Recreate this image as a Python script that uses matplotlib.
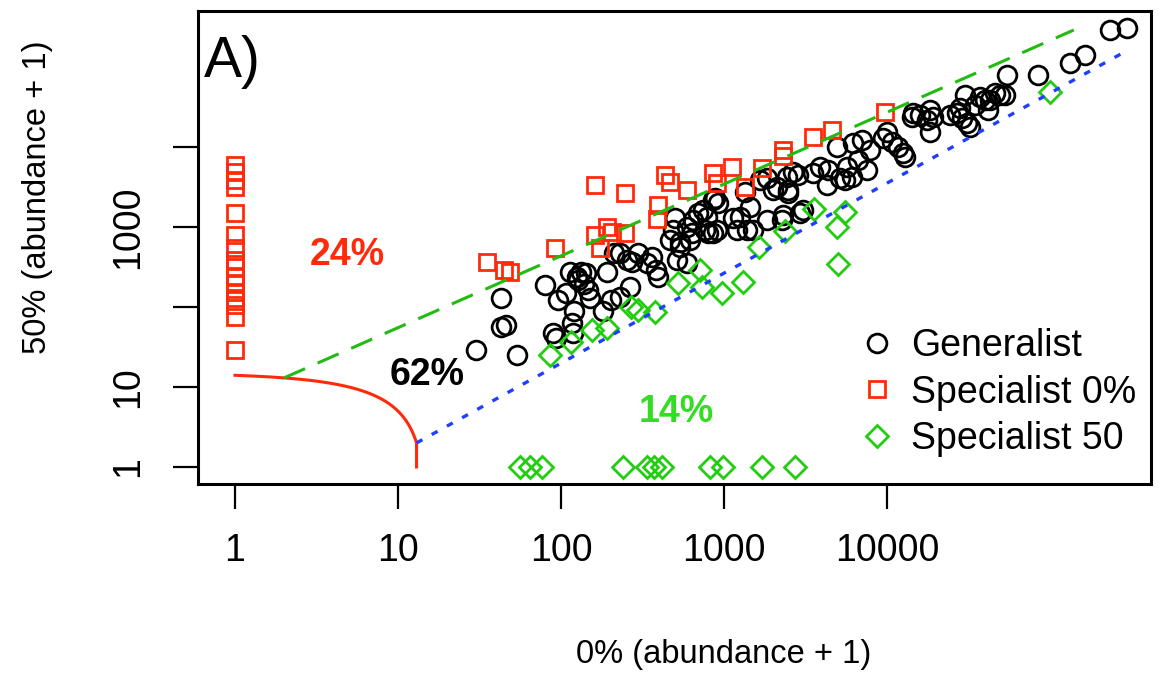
import numpy as np
import matplotlib.pyplot as plt

plt.rcParams['font.family'] = ['Liberation Sans', 'DejaVu Sans']

# generalist species: abundance + 1 at 0% and at 50%
gen_x = [30, 43, 43, 46, 54, 80, 89, 93, 96, 107, 117, 118, 114, 120, 127, 133, 138, 151,
         181, 192, 203, 211, 230, 230, 265, 254, 273, 297, 337, 362, 383, 394, 142, 146, 125,
         467, 487, 500, 537, 515, 593, 637, 645, 692, 787, 798, 906, 857, 919, 743, 1136,
         1254, 1345, 1445, 1507, 1663, 1836, 2115, 2270, 2472, 2650, 618, 537, 593, 764,
         857, 1202, 881,
         1836, 2437, 2472, 2844, 3053, 3515, 3880, 4285, 4345, 4932, 5150, 5685, 6185, 6640,
         7025, 7540, 7870, 5524, 6100, 2300, 2926, 2000, 1384,
         9450, 10000, 10740, 11680, 12530, 12890, 14230, 14450, 15930, 17590, 18370, 19150,
         18370, 26870, 28840, 30970, 32300, 37220, 39940, 41690, 46010, 52970, 54460, 84400,
         132700, 164000, 233500, 296700, 24370, 28050, 34670, 42850, 49320, 30110]
gen_y = [29, 130, 56, 60, 25, 188, 47, 41, 122, 150, 63, 47, 274, 89, 218, 274, 194, 130,
         89, 274, 122, 473, 473, 133, 178, 387, 365, 473, 355, 422, 290, 237, 266, 163, 237,
         688, 917, 1296, 649, 387, 1000, 841, 1223, 1496, 1334, 841, 917, 2175, 1995, 1632,
         1296, 1334, 2738, 1778, 917, 3868, 1223, 3162, 1223, 2661, 4870, 688, 562, 355, 917,
         841, 917, 2304,
         4098, 4217, 2900, 4467, 1632, 4732, 5623, 3350, 5158, 10000, 4098, 5623, 11220, 6879,
         12232, 5158, 9173, 3868, 4217, 1413, 1496, 2900, 917,
         12960, 15400, 11550, 10000, 8414, 7499, 23714, 26600, 25119, 21760, 29000, 23714,
         15400, 26600, 23050, 19950, 17780, 42170, 38680, 29000, 47320, 44670, 79430, 79430,
         112200, 141250, 290000, 307300, 25119, 30730, 33500, 38680, 44670, 44670]

# specialists found only (or mostly) at 0%
sp0_x = [1, 1, 1, 1, 1, 1, 1, 1, 1, 1, 1, 1, 1, 1, 1, 1,
         35, 45, 49, 92, 162, 173, 192, 205, 247, 162, 247, 394, 388, 435, 467, 593,
         857, 906, 1120, 1345, 1711, 2300, 2300, 3515, 4600, 9720]
sp0_y = [5957, 4870, 3870, 3162, 1496, 794, 546, 387, 316, 237, 194, 154, 130, 106, 75, 29,
         365, 290, 274, 546, 794, 546, 1000, 866, 841, 3350, 2660, 1884, 1259, 4467, 3652,
         2900, 4732, 3548, 5623, 3162, 5464, 9173, 7720, 13335, 16313, 27384]

# specialists found only (or mostly) at 50%
sp50_x = [56, 65, 76, 240, 337, 372, 417, 820, 986, 1711, 2727,
          86, 115, 155, 192, 269, 297, 377, 522, 713, 733, 972, 1308, 1640, 2366, 3562,
          5524, 4932, 5003, 100000]
sp50_y = [1, 1, 1, 1, 1, 1, 1, 1, 1, 1, 1,
          25, 37, 52, 55, 100, 92, 87, 200, 290, 178, 150, 205, 562, 891, 1679, 1540,
          1000, 345, 48696]

# boundary lines
total_cut = 15
upper_line = ([2, 140000], [13, 290000])
lower_line = ([13, 280000], [2, 150000])

ticks = [1, 10, 100, 1000, 10000]
xtick_labels = ['1', '10', '100', '1000', '10000']
ytick_labels = ['1', '10', '', '1000', '']

red = '#ff2a0a'
green = '#22cc11'

fig = plt.figure(figsize=(11.65, 6.73), dpi=100)
ax = fig.add_axes([198 / 1165, 1 - 484 / 673, (1151 - 198) / 1165, (484 - 11) / 673])
ax.set_xscale('log')
ax.set_yscale('log')

ax.plot(gen_x, gen_y, ls='none', marker='o', ms=13.5, mfc='none', mec='black', mew=2.0,
        label='Generalist')
ax.plot(sp0_x, sp0_y, ls='none', marker='s', ms=12, mfc='none', mec=red, mew=2.0,
        label='Specialist 0%')
ax.plot(sp50_x, sp50_y, ls='none', marker='D', ms=11.5, mfc='none', mec=green, mew=2.0,
        label='Specialist 50')

cx = np.linspace(1, total_cut - 2, 200)
ax.plot(list(cx) + [total_cut - 2], list(total_cut - cx) + [1], color=red, lw=2.2)
ax.plot(upper_line[0], upper_line[1], color='#22bb11', lw=2.2, dashes=(7.5, 4.5))
ax.plot(lower_line[0], lower_line[1], color='#1f3fff', lw=2.4, dashes=(2, 3.2))

ax.text(4.87, 447, '24%', color=red, fontsize=27, fontweight='bold', ha='center', va='center')
ax.text(15.1, 14.1, '62%', color='black', fontsize=27, fontweight='bold', ha='center', va='center')
ax.text(508, 4.87, '14%', color='#33dd22', fontsize=27, fontweight='bold', ha='center', va='center')
ax.text(0.006, 0.86, 'A)', transform=ax.transAxes, fontsize=41, ha='left', va='baseline')

ax.set_xlim(10 ** -0.227, 10 ** 5.62)
ax.set_ylim(10 ** -0.2125, 10 ** 5.7)
ax.minorticks_off()
ax.set_xticks(ticks)
ax.set_xticklabels(xtick_labels)
ax.set_yticks(ticks)
ax.set_yticklabels(ytick_labels, rotation=90, va='center')
ax.tick_params(direction='out', length=18, width=1.6, labelsize=27)
ax.tick_params(axis='x', pad=17)
ax.tick_params(axis='y', pad=19)
for s in ax.spines.values():
    s.set_linewidth(2.2)

fig.text(724 / 1165, 1 - 655 / 673, '0% (abundance + 1)', fontsize=23.5,
         ha='center', va='center')
fig.text(38 / 1165, 1 - 197 / 673, '50% (abundance + 1)', fontsize=23.5,
         ha='center', va='center', rotation=90)

ax.legend(loc='upper left', bbox_to_anchor=(0.737, 0.512), bbox_transform=fig.transFigure,
          frameon=False, fontsize=27, handlelength=1.0, handletextpad=0.4,
          labelspacing=0.27, borderpad=0, borderaxespad=0)

fig.savefig('out.png', dpi=100)
